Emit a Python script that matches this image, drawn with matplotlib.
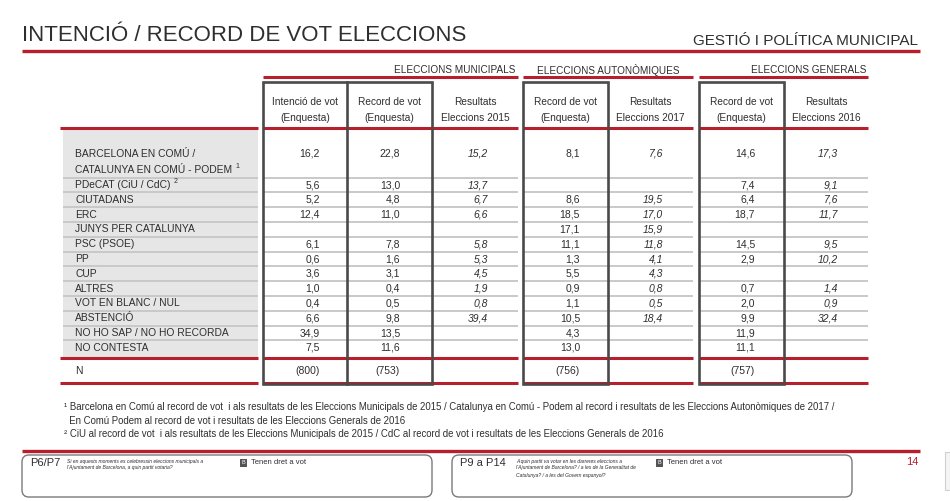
import matplotlib
matplotlib.use("Agg")
import matplotlib.pyplot as plt
from matplotlib import font_manager
from matplotlib.patches import Rectangle, FancyBboxPatch

# pick a narrow face if the system has one
names = {f.name for f in font_manager.fontManager.ttflist}
NARROW = "Liberation Sans Narrow" if "Liberation Sans Narrow" in names else "Liberation Sans"
SANS = "Liberation Sans"

RED = "#b71f2c"
DARK = "#2e2e2e"
BOX = "#4a4a4a"
GRID = "#c9c9c9"

# ---- data --------------------------------------------------------------
title = "INTENCIÓ / RECORD DE VOT ELECCIONS"
section = "GESTIÓ I POLÍTICA MUNICIPAL"

groups = ["ELECCIONS MUNICIPALS", "ELECCIONS AUTONÒMIQUES", "ELECCIONS GENERALS"]
headers = [("Intenció de vot", "(Enquesta)"), ("Record de vot", "(Enquesta)"),
           ("Resultats", "Eleccions 2015"), ("Record de vot", "(Enquesta)"),
           ("Resultats", "Eleccions 2017"), ("Record de vot", "(Enquesta)"),
           ("Resultats", "Eleccions 2016")]

parties = ["BARCELONA EN COMÚ /\nCATALUNYA EN COMÚ - PODEM", "PDeCAT (CiU / CdC)",
           "CIUTADANS", "ERC", "JUNYS PER CATALUNYA", "PSC (PSOE)", "PP", "CUP",
           "ALTRES", "VOT EN BLANC / NUL", "ABSTENCIÓ", "NO HO SAP / NO HO RECORDA",
           "NO CONTESTA"]
note_marks = {0: "1", 1: "2"}

int_mun = [16.2, 5.6, 5.2, 12.4, None, 6.1, 0.6, 3.6, 1.0, 0.4, 6.6, 34.9, 7.5]
rec_mun = [22.8, 13.0, 4.8, 11.0, None, 7.8, 1.6, 3.1, 0.4, 0.5, 9.8, 13.5, 11.6]
res_mun = [15.2, 13.7, 6.7, 6.6, None, 5.8, 5.3, 4.5, 1.9, 0.8, 39.4, None, None]
rec_aut = [8.1, None, 8.6, 18.5, 17.1, 11.1, 1.3, 5.5, 0.9, 1.1, 10.5, 4.3, 13.0]
res_aut = [7.6, None, 19.5, 17.0, 15.9, 11.8, 4.1, 4.3, 0.8, 0.5, 18.4, None, None]
rec_gen = [14.6, 7.4, 6.4, 18.7, None, 14.5, 2.9, None, 0.7, 2.0, 9.9, 11.9, 11.1]
res_gen = [17.3, 9.1, 7.6, 11.7, None, 9.5, 10.2, None, 1.4, 0.9, 32.4, None, None]
sample_n = [800, 753, None, 756, None, 757, None]

columns = [int_mun, rec_mun, res_mun, rec_aut, res_aut, rec_gen, res_gen]
italic_cols = [False, False, True, False, True, False, True]

footnotes = [
    "¹ Barcelona en Comú al record de vot  i als resultats de les Eleccions Municipals de 2015 / "
    "Catalunya en Comú - Podem al record i resultats de les Eleccions Autonòmiques de 2017 /",
    "  En Comú Podem al record de vot i resultats de les Eleccions Generals de 2016",
    "² CiU al record de vot  i als resultats de les Eleccions Municipals de 2015 / "
    "CdC al record de vot i resultats de les Eleccions Generals de 2016",
]

# ---- layout (pixels) ---------------------------------------------------
col_l = [263, 347, 432, 523, 608, 699, 784]
col_r = [347, 432, 518, 608, 693, 784, 868]
val_x = [320, 400, 488, 580, 663, 755, 838]
segments = [(63, 258), (263, 518), (523, 693), (699, 868)]
row0, step = 185.0, 14.8

fig = plt.figure(figsize=(9.5, 5.01), dpi=100)
ax = fig.add_axes([0, 0, 1, 1])
ax.set_xlim(0, 950)
ax.set_ylim(501, 0)
ax.axis("off")


def fmt(v):
    return "" if v is None else f"{v:.1f}".replace(".", ",")


# header band
ax.text(22, 35, title, fontsize=16, family=NARROW, color=DARK, va="center", ha="left")
ax.text(918, 41, section, fontsize=11, family=NARROW, color=DARK, va="center", ha="right")
ax.plot([22, 920], [51, 51], color=RED, lw=2.4, solid_capstyle="butt")

# group titles + red rules under them
ax.text(515, 70, groups[0], fontsize=7.2, family=SANS, color=DARK, ha="right", va="center")
ax.text(608, 70, groups[1], fontsize=7.2, family=SANS, color=DARK, ha="center", va="center")
ax.text(866, 70, groups[2], fontsize=7.2, family=SANS, color=DARK, ha="right", va="center")
for a, b in segments[1:]:
    ax.plot([a, b], [77, 77], color=RED, lw=2.2, solid_capstyle="butt")

# column headers
for i, (h1, h2) in enumerate(headers):
    cx = (col_l[i] + col_r[i]) / 2
    ax.text(cx, 102, h1, fontsize=7.3, family=SANS, color=DARK, ha="center", va="center")
    ax.text(cx, 118, h2, fontsize=7.3, family=SANS, color=DARK, ha="center", va="center")

# grey label column
ax.add_patch(Rectangle((63, 129), 195, 228, facecolor="#e6e6e6", edgecolor="none", zorder=0))

# row separators
for k in range(len(parties) - 1):
    y = 177.5 + step * k
    for a, b in segments:
        ax.plot([a, b], [y, y], color=GRID, lw=1.4, zorder=1, solid_capstyle="butt")

# red rules
for y in (128, 358, 383):
    for a, b in [(60, 258)] + segments[1:]:
        ax.plot([a, b], [y, y], color=RED, lw=2.2, zorder=2, solid_capstyle="butt")

# row labels and values
fig.canvas.draw()
renderer = fig.canvas.get_renderer()
inv = ax.transData.inverted()
for r, party in enumerate(parties):
    if r == 0:
        ax.text(75, 154, party.split("\n")[0], fontsize=7.4, family=SANS, color=DARK, va="center")
        last = ax.text(75, 170, party.split("\n")[1], fontsize=7.4, family=SANS, color=DARK, va="center")
        y, ly = 154, 170
    else:
        y = ly = row0 + step * (r - 1)
        last = ax.text(75, y, party, fontsize=7.4, family=SANS, color=DARK, va="center")
    if r in note_marks:
        x_end = inv.transform(last.get_window_extent(renderer).get_points()[1])[0]
        ax.text(x_end + 3, ly - 3.5, note_marks[r], fontsize=5, family=SANS, color=DARK, va="center")
    for c, col in enumerate(columns):
        ax.text(val_x[c], y, fmt(col[r]), fontsize=7.5, family=SANS, color=DARK,
                ha="right", va="center", style="italic" if italic_cols[c] else "normal")

# N row
ax.text(75, 371, "N", fontsize=7.4, family=SANS, color=DARK, va="center")
for c, n in enumerate(sample_n):
    if n is not None:
        ax.text(val_x[c], 371, f"({n})", fontsize=7.5, family=SANS, color=DARK, ha="right", va="center")

# thick boxes around survey columns
for a, b in [(263, 432), (523, 608), (699, 784)]:
    ax.add_patch(Rectangle((a, 82), b - a, 302, facecolor="none", edgecolor=BOX, lw=1.9, zorder=4))
ax.plot([347, 347], [82, 384], color=BOX, lw=1.9, zorder=4)

# footnotes
for t, y in zip(footnotes, [407, 421, 434]):
    ax.text(64, y, t, fontsize=6.9, family=NARROW, color=DARK, va="center")

ax.plot([22, 920], [451, 451], color=RED, lw=2.4, solid_capstyle="butt")

# question boxes
for x0, x1 in [(22, 432), (452, 852)]:
    ax.add_patch(FancyBboxPatch((x0, 455), x1 - x0, 42, boxstyle="round,pad=0,rounding_size=7",
                                facecolor="none", edgecolor="#7a7a7a", lw=1.0))

ax.text(30, 463, "P6/P7", fontsize=8, family=SANS, color=DARK, va="center")
ax.text(67, 461, "Si en aquests moments es celebressin eleccions municipals a",
        fontsize=3.6, family=SANS, style="italic", color=DARK, va="center")
ax.text(67, 468, "l'Ajuntament de Barcelona, a quin partit votaria?",
        fontsize=3.6, family=SANS, style="italic", color=DARK, va="center")
ax.text(460, 463, "P9 a P14", fontsize=8, family=SANS, color=DARK, va="center")
ax.text(516, 461, "A quin partit va votar en les darreres eleccions a",
        fontsize=3.6, family=SANS, style="italic", color=DARK, va="center")
ax.text(516, 468, "l'Ajuntament de Barcelona? / a les de la Generalitat de",
        fontsize=3.6, family=SANS, style="italic", color=DARK, va="center")
ax.text(516, 475, "Catalunya? / a les del Govern espanyol?",
        fontsize=3.6, family=SANS, style="italic", color=DARK, va="center")

for bx in (240, 656):
    ax.add_patch(Rectangle((bx, 459), 7, 8, facecolor="#555555", edgecolor="none"))
    ax.text(bx + 3.5, 463, "B", fontsize=4, family=SANS, color="white", ha="center", va="center")
    ax.text(bx + 11, 463, "Tenen dret a vot", fontsize=5.5, family=NARROW, color=DARK, va="center")

ax.text(918, 462, "14", fontsize=8, family=SANS, color=RED, ha="right", va="center")
ax.add_patch(Rectangle((945, 452), 8, 38, facecolor="#f4f4f4", edgecolor="#d0d0d0", lw=0.8))

fig.savefig("out.png", dpi=100, facecolor="white")
